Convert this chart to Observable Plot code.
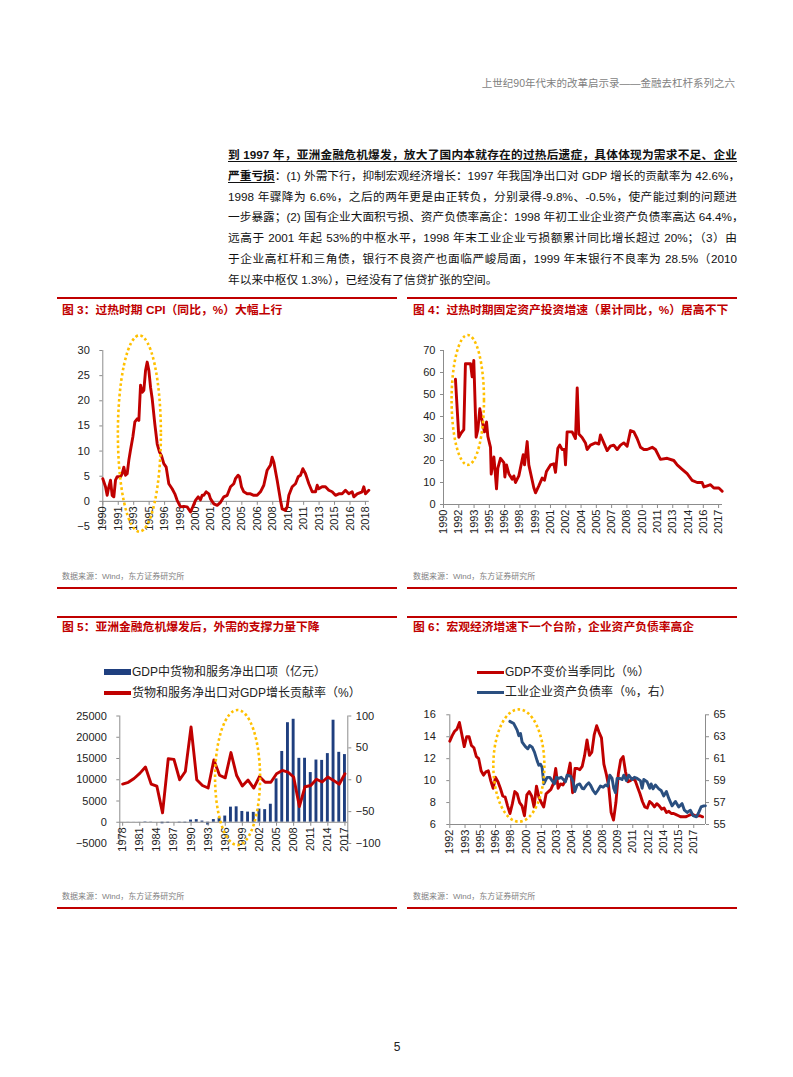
<!DOCTYPE html>
<html lang="zh-CN">
<head>
<meta charset="utf-8">
<script src="https://cdn.jsdelivr.net/npm/d3@7"></script>
<script src="https://cdn.jsdelivr.net/npm/@observablehq/plot@0.6"></script>
<style>
html,body{margin:0;padding:0;background:#fff;}
#page{position:relative;width:793px;height:1077px;overflow:hidden;background:#fff;font-family:"Liberation Sans",Arial,"Noto Sans CJK SC",sans-serif;}
.a{position:absolute;}
.hdr{right:58px;top:76px;font-size:10.5px;line-height:14px;color:#7f7f7f;white-space:nowrap;}
.para{left:228px;top:0;width:509px;font-size:11.7px;color:#111;}
.ln{position:absolute;left:0;width:509px;height:21px;line-height:21px;white-space:nowrap;text-align:justify;text-align-last:justify;}
.ln.last{text-align:left;text-align-last:left;}
.bu{font-weight:bold;text-decoration:underline;text-underline-offset:2px;}
.rule{height:1.5px;background:#C00000;}
.title{font-size:11.8px;font-weight:bold;color:#C00000;line-height:16px;white-space:nowrap;}
.src{font-size:8px;color:#7f7f7f;line-height:12px;white-space:nowrap;}
.leg{font-size:12px;color:#222;line-height:16px;white-space:nowrap;}
.chart svg{overflow:visible;background:transparent;}
</style>
</head>
<body>
<div id="page">
  <div class="a hdr">上世纪90年代末的改革启示录——金融去杠杆系列之六</div>
  <div class="a para">
    <div class="ln" style="top:144px"><span class="bu">到 1997 年，亚洲金融危机爆发，放大了国内本就存在的过热后遗症，具体体现为需求不足、企业</span></div>
    <div class="ln" style="top:165px"><span class="bu">严重亏损</span>：(1) 外需下行，抑制宏观经济增长：1997 年我国净出口对 GDP 增长的贡献率为 42.6%，</div>
    <div class="ln" style="top:186px">1998 年骤降为 6.6%，之后的两年更是由正转负，分别录得-9.8%、-0.5%，使产能过剩的问题进</div>
    <div class="ln" style="top:206px">一步暴露；(2) 国有企业大面积亏损、资产负债率高企：1998 年初工业企业资产负债率高达 64.4%，</div>
    <div class="ln" style="top:227px">远高于 2001 年起 53%的中枢水平，1998 年末工业企业亏损额累计同比增长超过 20%；（3）由</div>
    <div class="ln" style="top:248px">于企业高杠杆和三角债，银行不良资产也面临严峻局面，1999 年末银行不良率为 28.5%（2010</div>
    <div class="ln last" style="top:269px">年以来中枢仅 1.3%），已经没有了信贷扩张的空间。</div>
  </div>

  <div class="a rule" style="left:57px;top:297px;width:340px"></div>
  <div class="a rule" style="left:407px;top:297px;width:330px"></div>
  <div class="a title" style="left:62px;top:302px">图 3：过热时期 CPI（同比，%）大幅上行</div>
  <div class="a title" style="left:413px;top:302px">图 4：过热时期固定资产投资增速（累计同比，%）居高不下</div>
  <div class="a chart" id="c3" style="left:57px;top:330px"></div>
  <div class="a chart" id="c4" style="left:407px;top:330px"></div>
  <div class="a src" style="left:62px;top:571px">数据来源：Wind，东方证券研究所</div>
  <div class="a src" style="left:413px;top:571px">数据来源：Wind，东方证券研究所</div>
  <div class="a rule" style="left:57px;top:587px;width:340px"></div>
  <div class="a rule" style="left:407px;top:587px;width:330px"></div>

  <div class="a rule" style="left:57px;top:616px;width:340px"></div>
  <div class="a rule" style="left:407px;top:616px;width:330px"></div>
  <div class="a title" style="left:62px;top:619px">图 5：亚洲金融危机爆发后，外需的支撑力量下降</div>
  <div class="a title" style="left:413px;top:619px">图 6：宏观经济增速下一个台阶，企业资产负债率高企</div>

  <div class="a" style="left:104px;top:669px;width:27px;height:6px;background:#1F3F7F"></div>
  <div class="a leg" style="left:132px;top:664px">GDP中货物和服务净出口项（亿元）</div>
  <div class="a" style="left:104px;top:691px;width:27px;height:3.5px;background:#C00000"></div>
  <div class="a leg" style="left:132px;top:685px">货物和服务净出口对GDP增长贡献率（%）</div>

  <div class="a" style="left:477px;top:670.5px;width:27px;height:3.5px;background:#C00000"></div>
  <div class="a leg" style="left:505px;top:664px">GDP不变价当季同比（%）</div>
  <div class="a" style="left:477px;top:690.5px;width:27px;height:3.5px;background:#2A4F80"></div>
  <div class="a leg" style="left:505px;top:684px">工业企业资产负债率（%，右）</div>

  <div class="a chart" id="c5" style="left:57px;top:700px"></div>
  <div class="a chart" id="c6" style="left:407px;top:700px"></div>
  <div class="a src" style="left:62px;top:891px">数据来源：Wind，东方证券研究所</div>
  <div class="a src" style="left:413px;top:891px">数据来源：Wind，东方证券研究所</div>
  <div class="a rule" style="left:57px;top:907px;width:340px"></div>
  <div class="a rule" style="left:407px;top:907px;width:330px"></div>

  <div class="a" style="left:391px;top:1040px;width:12px;text-align:center;font-size:12px;color:#222">5</div>
</div>
<script>
// ---------- Figure 3: CPI yoy (%) [decimal year, value] ----------
const cpiData = [
[1990.0,4.5],[1990.29,2.9],[1990.47,1.2],[1990.65,2.9],[1990.83,4.2],[1991.01,1.2],[1991.19,0.9],[1991.37,4.2],[1991.55,4.9],[1991.91,4.9],
[1992.09,5.5],[1992.27,6.8],[1992.45,5.2],[1992.63,5.5],[1992.81,8.2],[1992.99,10.2],[1993.24,12.8],[1993.46,15.8],[1993.71,16.4],[1993.89,16.1],
[1994.07,23.1],[1994.25,21.7],[1994.43,22.1],[1994.61,26.0],[1994.79,27.7],[1994.97,26.0],[1995.15,22.7],[1995.33,20.4],[1995.61,15.4],[1995.87,11.4],
[1996.12,9.8],[1996.33,9.1],[1996.58,7.5],[1996.84,6.8],[1997.12,3.5],[1997.48,2.5],[1997.77,1.5],[1998.02,0.2],[1998.38,-1.1],[1998.74,-1.0],
[1999.1,-1.1],[1999.46,-2.1],[1999.71,-1.1],[2000.0,0.2],[2000.29,0.9],[2000.54,0.3],[2000.72,1.2],[2000.9,1.2],[2001.15,1.9],[2001.44,1.5],
[2001.62,0.5],[2001.98,-0.5],[2002.34,-0.8],[2002.7,-0.2],[2003.06,0.9],[2003.42,1.2],[2003.78,2.9],[2004.13,3.5],[2004.31,4.5],[2004.6,5.2],
[2004.75,4.9],[2004.96,2.9],[2005.21,1.9],[2005.57,1.5],[2005.93,1.5],[2006.29,1.2],[2006.65,1.2],[2007.01,1.9],[2007.37,3.2],[2007.73,6.2],
[2008.09,7.2],[2008.27,8.8],[2008.45,7.8],[2008.81,4.2],[2008.99,2.2],[2009.17,0.2],[2009.35,-1.5],[2009.71,-1.8],[2009.89,-1.1],[2010.07,1.2],
[2010.43,2.9],[2010.79,3.5],[2011.08,4.9],[2011.33,5.2],[2011.58,6.5],[2011.87,5.5],[2012.23,3.5],[2012.59,1.9],[2012.95,1.9],[2013.13,3.2],
[2013.3,2.5],[2013.66,2.9],[2014.02,2.9],[2014.38,2.2],[2014.74,1.9],[2015.1,1.2],[2015.46,1.5],[2015.82,1.5],[2016.18,2.2],[2016.54,1.5],
[2016.9,1.9],[2017.08,0.9],[2017.44,1.5],[2017.98,1.9],[2018.16,2.9],[2018.34,1.5],[2018.7,2.2]
];
const cpiYTicks = [-5, 0, 5, 10, 15, 20, 25, 30];
const cpiTicks = [1990, 1991.667, 1993.333, 1995, 1996.667, 1998.333, 2000, 2001.667, 2003.333, 2005, 2006.667, 2008.333, 2010, 2011.667, 2013.333, 2015, 2016.667, 2018.333];
const cpiTickLabels = ["1990","1991","1993","1995","1996","1998","2000","2001","2003","2005","2006","2008","2010","2011","2013","2015","2016","2018"];
const cpiEllipse = {x: 1994.0, y: 13.4, rx: 2.32, ry: 19.5};

// ---------- Figure 4: FAI cumulative yoy (%) ----------
const faiData = [
[1992.09,57],[1992.42,30.6],[1992.65,32.5],[1992.91,34],[1993.07,64],[1993.57,64],[1993.73,58],[1993.89,65.5],[1994.12,30.6],[1994.29,34],
[1994.48,43.5],[1994.71,38],[1994.94,33],[1995.14,37.5],[1995.27,31],[1995.53,26],[1995.6,13.8],[1995.86,21.6],[1995.95,17],[1996.12,7.1],
[1996.25,16.5],[1996.51,21],[1996.84,19],[1996.94,12.5],[1997.1,18],[1997.33,14],[1997.66,11.5],[1997.82,13],[1997.98,10],[1998.31,13],
[1998.74,22.6],[1998.87,18],[1999.13,28.6],[1999.29,18],[1999.78,7.6],[1999.95,5.3],[2000.27,8.5],[2000.6,12],[2000.83,11],[2001.02,15],
[2001.42,18],[2001.74,18.5],[2001.91,14.6],[2002.14,25.6],[2002.33,27],[2002.56,25],[2002.79,25],[2002.89,18],[2003.05,33],[2003.54,33],
[2003.87,30],[2004.04,53],[2004.2,32],[2004.52,30.5],[2004.85,28],[2005.01,25],[2005.34,27],[2005.83,28],[2006.16,27.5],[2006.32,31.6],
[2006.65,28],[2006.98,24.5],[2007.3,26.5],[2007.63,27],[2007.96,25],[2008.29,27],[2008.61,28],[2008.94,26.5],[2009.27,33.6],[2009.6,33],
[2009.92,30],[2010.25,26],[2010.58,25],[2010.9,25],[2011.4,26],[2011.72,25],[2012.21,20.5],[2012.87,21],[2013.52,20],[2013.85,18],
[2014.34,16],[2014.83,14],[2015.32,11],[2015.81,10],[2016.3,10],[2016.47,8],[2016.8,8.5],[2017.12,9],[2017.45,7.5],[2017.94,7.5],[2018.27,6]
];
const faiYTicks = [0, 10, 20, 30, 40, 50, 60, 70];
const faiTicks = [1990.917, 1992.417, 1993.917, 1995.417, 1996.917, 1998.417, 1999.917, 2001.417, 2002.917, 2004.417, 2005.917, 2007.417, 2008.917, 2010.417, 2011.917, 2013.417, 2014.917, 2016.417, 2017.917];
const faiTickLabels = ["1990","1992","1993","1995","1996","1998","1999","2001","2002","2004","2005","2007","2008","2010","2011","2013","2014","2016","2017"];
const faiEllipse = {x: 1993.35, y: 47.3, rx: 1.59, ry: 29.5};

// ---------- Figure 5: net exports (100m yuan) & contribution (%) ----------
const nxYears = [1978,1979,1980,1981,1982,1983,1984,1985,1986,1987,1988,1989,1990,1991,1992,1993,1994,1995,1996,1997,1998,1999,2000,2001,2002,2003,2004,2005,2006,2007,2008,2009,2010,2011,2012,2013,2014,2015,2016,2017];
const nxValues = [-11,-20,-15,17,91,51,1,-367,-255,11,-151,-185,510,617,276,-680,634,999,1459,3550,3629,2537,2390,2325,3094,2965,4236,10209,16655,23423,24227,15037,15057,11688,14636,14552,16152,24007,16452,15920];
const nxContrib = [-6.7,-4,2,10,20,-6.7,-10,-52,33,32,0,13,83,0,-9,-13,31,7,3,42.6,6.6,-9.8,-0.5,-13,5,-4,-4,9.5,14.6,12,4.3,-42,-11,-9,0.7,-3.5,4.3,-1,-7,9.5];
const nxLeftTicks = [-5000, 0, 5000, 10000, 15000, 20000, 25000];
const nxRightTicks = [-100, -50, 0, 50, 100];
const nxTickYears = [1978,1981,1984,1987,1990,1993,1996,1999,2002,2005,2008,2011,2014,2017];
const nxEllipse = {x: 1998.25, y: 10400, rx: 3.95, ry: 15900};

// ---------- Figure 6: GDP quarterly yoy (%) & industrial debt ratio (%, right) ----------
const gdpQuarterly = [
13.6,14.1,14.5,14.7, 15.3,14.2,13.1,14.0, 14.0,13.2,13.0,12.2, 12.0,10.9,10.5,10.8, 10.9,10.0,9.3,10.3,
9.9,9.3,8.6,8.5, 7.7,7.0,7.9,9.0, 8.8,8.0,7.7,6.8, 8.7,9.0,8.6,7.6, 9.5,8.5,8.0,7.6,
8.8,9.0,9.2,9.7, 11.1,9.3,9.7,9.6, 10.0,10.5,11.6,8.9, 11.1,11.1,11.0,11.3, 12.3,13.7,12.3,12.6,
14.2,15.0,14.4,13.9, 11.5,10.6,9.5,7.1, 6.4,8.0,10.6,11.9, 12.2,10.8,9.9,10.0, 10.2,10.0,9.4,8.8,
8.1,7.6,7.5,8.1, 7.9,7.6,7.9,7.7, 7.4,7.5,7.1,7.2, 7.0,7.0,6.9,6.8, 6.7,6.7,6.7,6.8,
6.9,6.9,6.8,6.8, 6.8,6.7
];
const gdpStartYear = 1992;
const debtRatio = [
[1998.40,64.4],[1998.81,64.2],[1999.16,63.6],[1999.33,63.1],[1999.51,63.3],[1999.68,62.5],[2000.02,62.1],[2000.27,61.9],[2000.47,62.2],[2000.72,62.05],
[2000.96,61.6],[2001.24,60.8],[2001.41,60.4],[2001.58,60.5],[2001.75,60.2],[2001.93,58.7],[2002.27,59.3],[2002.55,59.3],[2002.79,59.0],[2003.04,58.7],
[2003.24,59.3],[2003.48,59.2],[2003.73,59.3],[2004.18,58.9],[2004.35,59.5],[2004.70,59.4],[2004.97,58.9],[2005.15,58.0],[2005.39,58.6],[2005.66,58.7],
[2005.91,58.3],[2006.08,58.25],[2006.36,58.6],[2006.60,58.8],[2006.77,58.6],[2007.05,58.1],[2007.29,57.8],[2007.53,58.1],[2007.81,58.5],[2008.09,58.4],
[2008.33,58.6],[2008.57,58.5],[2008.78,59.5],[2009.02,59.2],[2009.19,58.3],[2009.37,57.9],[2009.54,59.2],[2009.82,59.2],[2010.06,59.1],[2010.23,59.5],
[2010.51,59.0],[2010.75,59.5],[2011.10,59.1],[2011.34,59.3],[2011.62,59.2],[2011.96,59.0],[2012.14,58.3],[2012.31,59.1],[2012.65,58.9],[2012.93,58.3],
[2013.07,58.7],[2013.28,58.25],[2013.52,58.6],[2013.87,58.25],[2014.11,58.1],[2014.38,57.6],[2014.66,58.0],[2014.90,57.4],[2015.25,56.7],[2015.60,57.1],
[2015.94,56.6],[2016.29,56.9],[2016.53,56.3],[2016.81,56.1],[2017.15,56.3],[2017.43,55.8],[2017.78,55.7],[2018.02,56.1],[2018.26,56.6],[2018.54,56.7],[2018.71,56.7]
];
const gdpLeftTicks = [6, 8, 10, 12, 14, 16];
const debtOffset = 49; // right axis (55–65) aligned with left axis (6–16)
const gdpTicks = [1992.167, 1993.75, 1995.333, 1996.917, 1998.5, 2000.083, 2001.667, 2003.25, 2004.833, 2006.417, 2008.0, 2009.583, 2011.167, 2012.75, 2014.333, 2015.917, 2017.5];
const gdpTickLabels = ["1992","1993","1995","1996","1998","2000","2001","2003","2004","2006","2008","2009","2011","2012","2014","2015","2017"];
const gdpEllipse = {x: 1999.39, y: 11.33, rx: 2.65, ry: 5.12};

// ---------- helpers ----------
const FONT = '"Liberation Sans", Arial, "Noto Sans CJK SC", sans-serif';
const AXIS = "#8c8c8c", TXT = "#222", RED = "#C00000", NAVY = "#1F3F7F", BLUE = "#2A4F80";
const tickDown = {draw(ctx) { ctx.moveTo(0, 0); ctx.lineTo(0, 3.5); }};
const fmtMinus = v => v < 0 ? "\u2212" + (-v) : String(v);

function ellipseMark(e) {
  return (index, scales) => {
    const cx = scales.x(e.x), cy = scales.y(e.y);
    const rx = Math.abs(scales.x(e.x + e.rx) - cx), ry = Math.abs(scales.y(e.y + e.ry) - cy);
    const el = document.createElementNS("http://www.w3.org/2000/svg", "ellipse");
    el.setAttribute("cx", cx); el.setAttribute("cy", cy);
    el.setAttribute("rx", rx); el.setAttribute("ry", ry);
    el.setAttribute("fill", "none"); el.setAttribute("stroke", "#FFC000");
    el.setAttribute("stroke-width", 2.6); el.setAttribute("stroke-dasharray", "2.6 2.6");
    return el;
  };
}
function xAxisAt(ticks, labels, y0) {
  return [
    Plot.ruleY([y0], {stroke: AXIS}),
    Plot.dot(ticks, {x: d => d, y: y0, symbol: tickDown, stroke: AXIS, fill: "none", strokeWidth: 1}),
    Plot.text(ticks, {x: d => d, y: y0, text: (d, i) => labels[i], rotate: -90, textAnchor: "end", dy: 5, fill: TXT})
  ];
}
const baseStyle = {fontFamily: FONT, fontSize: "11px", background: "transparent", overflow: "visible", color: TXT};

// Figure 3
document.getElementById("c3").append(Plot.plot({
  width: 340, height: 210, marginLeft: 45.3, marginRight: 28.2, marginTop: 20, marginBottom: 14,
  style: baseStyle,
  x: {domain: [1990, 2018.75], axis: null},
  y: {domain: [-5, 30], axis: null},
  marks: [
    Plot.axisY(cpiYTicks, {anchor: "left", tickSize: 3, tickPadding: 10, stroke: AXIS, fill: TXT, label: null, tickFormat: fmtMinus}),
    Plot.ruleX([1990], {stroke: AXIS}),
    ...xAxisAt(cpiTicks, cpiTickLabels, 0),
    Plot.line(cpiData, {x: d => d[0], y: d => d[1], stroke: RED, strokeWidth: 2.9, strokeLinejoin: "round"}),
    ellipseMark(cpiEllipse)
  ]
}));

// Figure 4
document.getElementById("c4").append(Plot.plot({
  width: 330, height: 210, marginLeft: 36, marginRight: 15, marginTop: 20, marginBottom: 36,
  style: baseStyle,
  x: {domain: [1990.917, 2018.3], axis: null},
  y: {domain: [0, 70], axis: null},
  marks: [
    Plot.axisY(faiYTicks, {anchor: "left", tickSize: 3, tickPadding: 5, stroke: AXIS, fill: TXT, label: null, tickFormat: fmtMinus}),
    Plot.ruleX([1990.917], {stroke: AXIS}),
    ...xAxisAt(faiTicks, faiTickLabels, 0),
    Plot.line(faiData, {x: d => d[0], y: d => d[1], stroke: RED, strokeWidth: 2.9, strokeLinejoin: "round"}),
    ellipseMark(faiEllipse)
  ]
}));

// Figure 5
const nxRows = nxYears.map((year, i) => ({year, value: nxValues[i], contrib: nxContrib[i]}));
const contribToLeft = c => 10000 + 150 * c; // right axis -100..100 on left axis -5000..25000
document.getElementById("c5").append(Plot.plot({
  width: 340, height: 170, marginLeft: 62.3, marginRight: 49.7, marginTop: 15.5, marginBottom: 27,
  style: baseStyle,
  x: {domain: [1977.5, 2017.5], axis: null},
  y: {domain: [-5000, 25000], axis: null},
  marks: [
    Plot.axisY(nxLeftTicks, {anchor: "left", tickSize: 3, tickPadding: 10, stroke: AXIS, fill: TXT, label: null, tickFormat: fmtMinus}),
    Plot.axisY(nxRightTicks.map(contribToLeft), {anchor: "right", tickSize: 3, tickPadding: 5, stroke: AXIS, fill: TXT, label: null,
      tickFormat: d => fmtMinus((d - 10000) / 150)}),
    Plot.ruleX([1977.5, 2017.5], {stroke: AXIS}),
    Plot.rect(nxRows, {x1: d => d.year - 0.5, x2: d => d.year + 0.5, y1: 0, y2: "value", insetLeft: 1.4, insetRight: 1.4, fill: NAVY}),
    ...xAxisAt(nxTickYears, nxTickYears.map(String), 0),
    Plot.line(nxRows, {x: "year", y: d => contribToLeft(d.contrib), stroke: RED, strokeWidth: 2.9, strokeLinejoin: "round"}),
    ellipseMark(nxEllipse)
  ]
}));

// Figure 6
const gdpRows = gdpQuarterly.map((v, i) => ({t: gdpStartYear + (2 + 3 * i) / 12, v}));
document.getElementById("c6").append(Plot.plot({
  width: 330, height: 170, marginLeft: 42.3, marginRight: 32, marginTop: 14.3, marginBottom: 46,
  style: baseStyle,
  x: {domain: [1992.167, 2018.72], axis: null},
  y: {domain: [6, 16], axis: null},
  marks: [
    Plot.axisY(gdpLeftTicks, {anchor: "left", tickSize: 3, tickPadding: 11, stroke: AXIS, fill: TXT, label: null, tickFormat: fmtMinus}),
    Plot.axisY(gdpLeftTicks, {anchor: "right", tickSize: 3, tickPadding: 5, stroke: AXIS, fill: TXT, label: null,
      tickFormat: d => String(d + debtOffset)}),
    Plot.ruleX([1992.167, 2018.72], {stroke: AXIS}),
    ...xAxisAt(gdpTicks, gdpTickLabels, 6),
    Plot.line(gdpRows, {x: "t", y: "v", stroke: RED, strokeWidth: 2.9, strokeLinejoin: "round"}),
    Plot.line(debtRatio, {x: d => d[0], y: d => d[1] - debtOffset, stroke: BLUE, strokeWidth: 2.9, strokeLinejoin: "round"}),
    ellipseMark(gdpEllipse)
  ]
}));
</script>
</body>
</html>
